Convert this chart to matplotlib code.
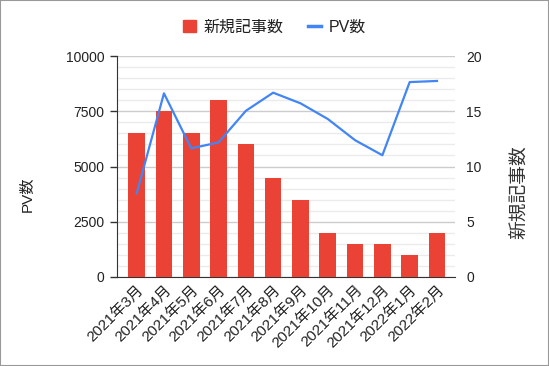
import matplotlib.pyplot as plt
from matplotlib.patches import Rectangle
from matplotlib.lines import Line2D
from matplotlib.ticker import MultipleLocator

plt.rcParams['font.family'] = ['Liberation Sans', 'Noto Sans CJK JP', 'DejaVu Sans']

months = ['2021年3月', '2021年4月', '2021年5月', '2021年6月', '2021年7月', '2021年8月',
          '2021年9月', '2021年10月', '2021年11月', '2021年12月', '2022年1月', '2022年2月']
articles = [13, 15, 13, 16, 12, 9, 7, 4, 3, 3, 2, 4]
pv = [3780, 8310, 5820, 6090, 7520, 8340, 7860, 7150, 6190, 5510, 8820, 8870]

red = '#ea4335'
blue = '#4285f4'
txt = '#222222'

fig = plt.figure(figsize=(5.49, 3.66), dpi=100)
W, H = 549, 366
ax = fig.add_axes([117 / W, (H - 277) / H, (455 - 117) / W, (277 - 56) / H])
ax2 = ax.twinx()

x = list(range(len(months)))
ax.bar(x, articles, width=0.61, color=red, zorder=3)
ax.set_xlim(-0.72, 11.66)
ax.set_ylim(0, 20)
ax.yaxis.tick_right()
ax.yaxis.set_major_locator(MultipleLocator(5))
ax.yaxis.set_minor_locator(MultipleLocator(1))
ax.grid(which='major', axis='y', color='#cccccc', linewidth=1, zorder=0)
ax.grid(which='minor', axis='y', color='#ebebeb', linewidth=1, zorder=0)
ax.tick_params(axis='y', which='both', length=0, labelsize=10, labelcolor=txt, pad=8)
ax.set_xticks(x)
ax.set_xticklabels(months, rotation=45, ha='right', rotation_mode='anchor', fontsize=11, color=txt)
ax.tick_params(axis='x', length=0, pad=4)
for s in ['top', 'right', 'left']:
    ax.spines[s].set_visible(False)
ax.spines['bottom'].set_color('#333333')
ax.set_axisbelow(True)

ax2.plot(x, pv, color=blue, linewidth=1.6, zorder=4)
ax2.set_ylim(0, 10000)
ax2.yaxis.tick_left()
ax2.set_yticks([0, 2500, 5000, 7500, 10000])
ax2.tick_params(axis='y', length=5, width=1, color='#333333', labelsize=10, labelcolor=txt, pad=4)
for s in ['top', 'right', 'bottom']:
    ax2.spines[s].set_visible(False)
ax2.spines['left'].set_color('#333333')

fig.text(28 / W, 1 - 194 / H, 'PV数', rotation=90, ha='center', va='center', fontsize=11, color=txt)
fig.text(521 / W, 1 - 192 / H, '新規記事数', rotation=90, ha='center', va='center', fontsize=13.5,
         color='#333333')

handles = [Rectangle((0, 0), 1, 1, color=red), Line2D([0], [0], color=blue, linewidth=2.5)]
fig.legend(handles, ['新規記事数', 'PV数'], loc='center', bbox_to_anchor=(0.5, 1 - 27 / H),
           ncol=2, frameon=False, fontsize=11.5, handlelength=0.8, handleheight=0.8,
           handletextpad=0.5, columnspacing=1.5, labelcolor=txt)

fig.patches.append(Rectangle((0, 0), 1, 1, transform=fig.transFigure, fill=False,
                             edgecolor='#999999', linewidth=1.5))

fig.savefig('out.png', dpi=100)
